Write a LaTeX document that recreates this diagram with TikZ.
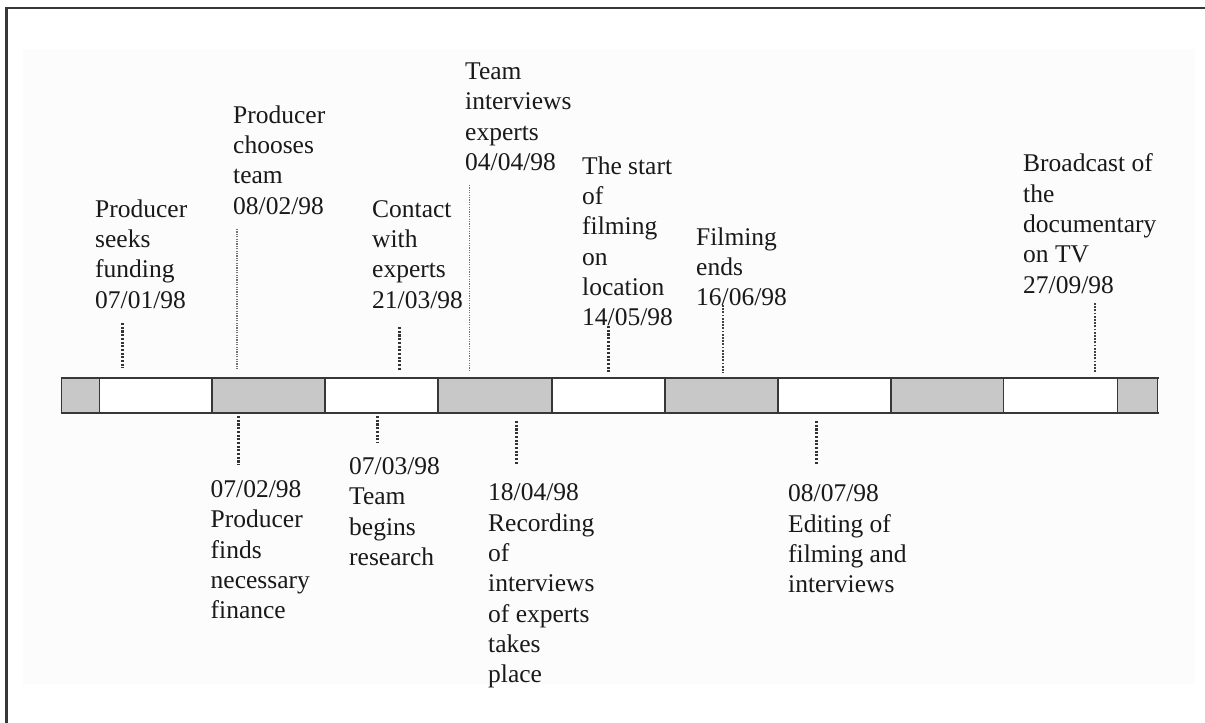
\documentclass[tikz,border=0pt]{standalone}
\usepackage{fontspec}
\setmainfont{Liberation Serif}
\definecolor{barfill}{RGB}{200,200,200}
\definecolor{ink}{RGB}{25,25,25}
\definecolor{linecol}{RGB}{55,55,55}
\definecolor{bgtint}{RGB}{252,252,252}
\begin{document}
\begin{tikzpicture}[x=1pt,y=-1pt,
  lbl/.style={anchor=north west, inner sep=0pt, align=left, text=ink,
    font=\fontsize{25.5}{30.3}\selectfont},
  dotthick/.style={line width=3pt, dash pattern=on 2.1pt off 1.6pt, draw=black!80},
  dotmed/.style={line width=2pt, dash pattern=on 1.8pt off 1.4pt, draw=black!75},
  dotthin/.style={line width=1.2pt, dash pattern=on 1.2pt off 1.2pt, draw=black!55},
  barline/.style={draw=linecol, line width=2.2pt},
  divline/.style={draw=linecol, line width=1.6pt},
  framestyle/.style={draw=linecol, line width=2.4pt},
]
\useasboundingbox (0,0) rectangle (1205,723);
\fill[white] (0,0) rectangle (1205,723);
\fill[bgtint] (23,49) rectangle (1195,684);
% frame
\draw[framestyle] (6.5,723) -- (6.5,8) -- (1205,8);

% bar segments
\foreach \a/\b/\c in {61.5/99.4/barfill, 99.4/212/white, 212/325/barfill, 325/438/white,
  438/552/barfill, 552/665/white, 665/777.7/barfill, 777.7/891/white, 891/1003.3/barfill,
  1003.3/1117.3/white, 1117.3/1157.5/barfill}
  {\fill[\c] (\a,378) rectangle (\b,413);}
\foreach \x in {61.5,99.4,212,325,438,552,665,777.7,891,1003.3,1117.3,1157.5}
  {\draw[divline] (\x,378) -- (\x,413);}
\draw[barline] (60.5,378) -- (1158.5,378);
\draw[barline] (60.5,413) -- (1158.5,413);

% labels above
\node[lbl] (t1) at (95,195.8) {\strut Producer\\seeks\\funding\\07/01/98};
\node[lbl] (t2) at (233,101.8) {\strut Producer\\chooses\\team\\08/02/98};
\node[lbl] (t3) at (372,195.8) {\strut Contact\\with\\experts\\21/03/98};
\node[lbl] (t4) at (465,58.1) {\strut Team\\interviews\\experts\\04/04/98};
\node[lbl] (t5) at (582,152.8) {\strut The start\\of\\filming\\on\\location\\14/05/98};
\node[lbl] (t6) at (696,223.8) {\strut Filming\\ends\\16/06/98};
\node[lbl] (t7) at (1023,150.5) {\strut Broadcast of\\the\\documentary\\on TV\\27/09/98};
% labels below
\node[lbl] (b1) at (210.5,476.1) {\strut 07/02/98\\Producer\\finds\\necessary\\finance};
\node[lbl] (b2) at (349,453.1) {\strut 07/03/98\\Team\\begins\\research};
\node[lbl] (b3) at (488,479.5) {\strut 18/04/98\\Recording\\of\\interviews\\of experts\\takes\\place};
\node[lbl] (b4) at (788,480.5) {\strut 08/07/98\\Editing of\\filming and\\interviews};

% connector end points
\coordinate (c1a) at (122,323);   \coordinate (c1b) at (122,368);
\coordinate (c2a) at (237,229);   \coordinate (c2b) at (237,369);
\coordinate (c3a) at (399.5,327); \coordinate (c3b) at (399.5,370);
\coordinate (c4a) at (469.5,185); \coordinate (c4b) at (469.5,372);
\coordinate (c5a) at (608,326);   \coordinate (c5b) at (608,372);
\coordinate (c6a) at (723,305);   \coordinate (c6b) at (723,373);
\coordinate (c7a) at (1095,303);  \coordinate (c7b) at (1095,373);
\coordinate (c8a) at (238,416);   \coordinate (c8b) at (238,465);
\coordinate (c9a) at (377,416);   \coordinate (c9b) at (377,443);
\coordinate (c10a) at (516,421);  \coordinate (c10b) at (516,465);
\coordinate (c11a) at (816,421);  \coordinate (c11b) at (816,465);

\draw[dotthick] (c1a) -- (c1b);
\draw[dotthin]  (c2a) -- (c2b);
\draw[dotthick] (c3a) -- (c3b);
\draw[dotthin]  (c4a) -- (c4b);
\draw[dotthick] (c5a) -- (c5b);
\draw[dotmed]   (c6a) -- (c6b);
\draw[dotmed]   (c7a) -- (c7b);
\draw[dotthick] (c8a) -- (c8b);
\draw[dotthick] (c9a) -- (c9b);
\draw[dotthick] (c10a) -- (c10b);
\draw[dotthick] (c11a) -- (c11b);
\end{tikzpicture}
\end{document}
